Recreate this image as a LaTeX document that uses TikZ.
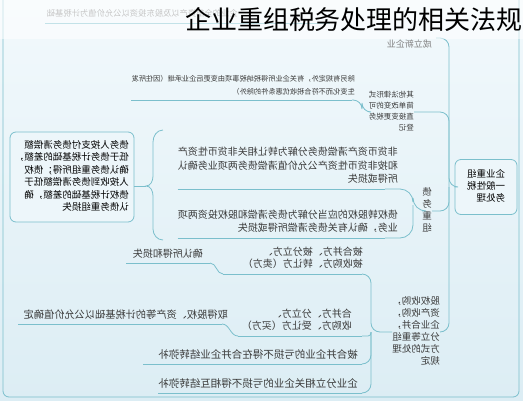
\documentclass[tikz,border=0pt]{standalone}
\usepackage{fontspec}
\usepackage{graphicx}
\setmainfont{Noto Sans CJK SC}
\definecolor{bgtop}{HTML}{F2F9FC}
\definecolor{bgbot}{HTML}{DCEDF4}
\definecolor{lnc}{HTML}{7BBFCC}
\definecolor{txc}{HTML}{3A3A3A}
\definecolor{boxc}{HTML}{EDF6FA}
\newcommand\mirt[3]{\reflectbox{\fontsize{#1}{#2}\selectfont\begin{tabular}{@{}l@{}}#3\end{tabular}}}
\tikzset{
  tt/.style={inner sep=0pt, text=txc},
  conn/.style={draw=lnc, line width=0.8pt, rounded corners=9pt},
  uline/.style={draw=lnc, line width=0.8pt},
  boxn/.style={draw=lnc, line width=0.8pt, fill=boxc, rounded corners=6pt, inner sep=0pt},
}
\begin{document}
\begin{tikzpicture}[x=1pt,y=-1pt]
\useasboundingbox (0,0) rectangle (523,400);
\shade[top color=bgtop, bottom color=bgbot] (0,0) rectangle (523,400);
% frame
\draw[conn, rounded corners=6pt] (3,-5) -- (3,397) -- (519,397) -- (519,-5);

% root
\node[boxn, minimum width=62pt, minimum height=55pt] (root) at (486,187) {\mirt{9.5}{12}{企业重组\\一般性税\\务处理}};

% level 1
\node[tt, anchor=east, text=gray] (A) at (432,45) {\mirt{9}{12}{成立新企业}};
\node[tt, anchor=east] (B) at (414,112) {\mirt{7.5}{11}{其他法律形式\\简单改变的可\\直接变更税务\\登记}};
\node[tt, anchor=east] (C) at (432,211) {\reflectbox{\fontsize{9.5}{12}\selectfont\begin{tabular}{@{}c@{}}债\\务\\重\\组\end{tabular}}};
\node[tt, anchor=east] (D) at (440,332) {\mirt{9.5}{12}{股权收购，\\资产收购，\\企业合并，\\分立等重组\\方式的处理\\规定}};

\coordinate (sp) at (449,187);
\draw[conn] (root.west) -- (sp) -- (449,38) -- (436,38);
\draw[conn] (sp) -- (449,112) -- (B.east);
\draw[conn] (sp) -- (449,211) -- (C.east);
\draw[conn] (sp) -- (449,332) -- (D.east);

% A child
\node[tt, anchor=south east, text=gray] (A1) at (238,20) {\mirt{8.3}{12}{企业的全部资产以及股东投资以公允价值为计税基础}};
\draw[uline] (45,23) -- (330,23);

% B child
\node[tt, anchor=south east] (B1) at (355,98) {\mirt{7.2}{12.5}{除另有规定外，有关企业所得税纳税事项由变更后企业承继（因住所发\\生变化而不符合税收优惠条件的除外）}};
\coordinate (b1r) at (352,100);
\draw[uline] (B1.south west |- b1r) -- (b1r);
\draw[conn] (b1r) -- (362,100) -- (362,112) -- (B.west);

% C children
\node[tt, anchor=south east] (C1) at (398,187) {\mirt{10}{13.5}{非货币资产清偿债务分解为转让相关非货币性资产\\和按非货币性资产公允价值清偿债务两项业务确认\\所得或损失}};
\node[tt, anchor=south east] (C2) at (398,236) {\mirt{10}{13}{债权转股权的应当分解为债务清偿和股权投资两项\\业务，确认有关债务清偿所得或损失}};
\coordinate (c1r) at (385,189);
\coordinate (c2r) at (385,238);
\draw[uline] (C1.south west |- c1r) -- (c1r);
\draw[uline] (C2.south west |- c2r) -- (c2r);
\draw[conn, rounded corners=13pt] (C.west) -- (413,211) -- (413,189) -- (c1r);
\draw[conn, rounded corners=13pt] (413,205) -- (413,238) -- (c2r);

% summary brace and box
\node[boxn, minimum width=124pt, minimum height=90pt] (S) at (72,177) {\mirt{9.5}{12.4}{债务人按支付债务清偿额\\低于债务计税基础的差额，\\确认债务重组所得；债权\\人按收到债务清偿额低于\\债权计税基础的差额，确\\认债务重组损失}};
\coordinate (bt) at (146,186);
\draw[uline] (163,130) to[out=180,in=90] (153,142) -- (153,176) to[out=-90,in=0] (bt) to[out=0,in=90] (153,196) -- (153,229) to[out=-90,in=180] (163,240);
\draw[uline] (S.east |- bt) -- (bt);

% D children
\node[tt, anchor=south east] (D1) at (363,271) {\mirt{10}{12}{被合并方、被分立方、\\被收购方、转让方（卖方）}};
\node[tt, anchor=south east] (D2) at (352,333) {\mirt{10}{12}{合并方、分立方、\\收购方、受让方（买方）}};
\node[tt, anchor=south east] (D3) at (358,362) {\mirt{10.5}{12}{被合并企业的亏损不得在合并企业结转弥补}};
\node[tt, anchor=south east] (D4) at (358,391) {\mirt{10.5}{12}{企业分立相关企业的亏损不得相互结转弥补}};
\coordinate (d1r) at (362,274);
\coordinate (d1l) at (223,274);
\coordinate (d2r) at (362,336);
\coordinate (d2l) at (238,336);
\coordinate (d3r) at (362,364);
\coordinate (d4r) at (362,393);
\draw[uline] (d1l) -- (d1r);
\draw[uline] (d2l) -- (d2r);
\draw[uline] (143,364) -- (d3r);
\draw[uline] (158,393) -- (d4r);
\coordinate (dk) at (371,332);
\draw[conn] (D.west) -- (dk) -- (371,274) -- (d1r);
\draw[conn, rounded corners=3pt] (dk) -- (371,336) -- (d2r);
\draw[conn] (dk) -- (371,364) -- (d3r);
\draw[conn] (dk) -- (371,393) -- (d4r);

% D1 child
\node[tt, anchor=south east] (E1) at (203,261) {\mirt{10}{12}{确认所得和损失}};
\coordinate (e1r) at (210,263);
\draw[uline] (126,263) -- (e1r);
\draw[uline] (e1r) to[out=0,in=180] (d1l);
% D2 child
\node[tt, anchor=south east] (E2) at (228,322) {\mirt{10.2}{12}{取得股权、资产等的计税基础以公允价值确定}};
\coordinate (e2r) at (222,324);
\draw[uline] (18,324) -- (e2r);
\draw[uline] (e2r) to[out=0,in=180] (d2l);

% top band and title
\fill[white, opacity=0.55] (0,0) rectangle (523,39);
\node[tt, text=black] (title) at (354,20) {\fontsize{26}{30}\selectfont 企业重组税务处理的相关法规};
\end{tikzpicture}
\end{document}
